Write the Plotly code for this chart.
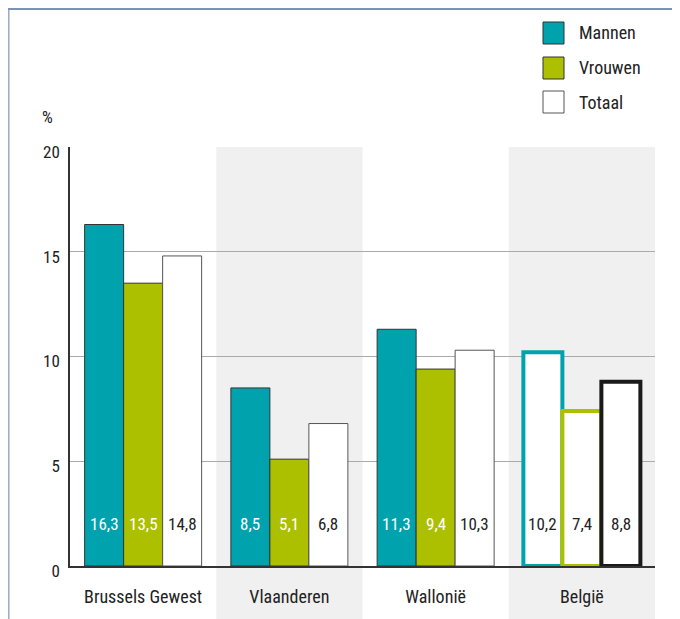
import plotly.graph_objects as go

categories = ["Brussels Gewest", "Vlaanderen", "Wallonië", "België"]
mannen = [16.3, 8.5, 11.3, 10.2]
vrouwen = [13.5, 5.1, 9.4, 7.4]
totaal = [14.8, 6.8, 10.3, 8.8]
labels_m = ["16,3", "8,5", "11,3", "10,2"]
labels_v = ["13,5", "5,1", "9,4", "7,4"]
labels_t = ["14,8", "6,8", "10,3", "8,8"]
series_names = ["Mannen", "Vrouwen", "Totaal"]
y_ticks = [0, 5, 10, 15, 20]

TEAL = "#00a3ad"
GREEN = "#adc000"
FONT = "Roboto Condensed, DejaVu Sans Condensed, sans-serif"
TXT = "#222222"

# the page body adds an 8px offset; work in reference pixels and convert
OFF = 8
W, H = 680 - OFF, 619 - OFF
L, R, T, B = 62, 25, 139, 53
PW, PH = W - L - R, H - T - B


def px(x):
    return (x - OFF - L) / PW


def py(y):
    return (H - B - (y - OFF)) / PH


fig = go.Figure()

m_fill = [TEAL, TEAL, TEAL, "white"]
m_line = ["#333333", "#333333", "#333333", TEAL]
lw = [1, 1, 1, 4]
v_fill = [GREEN, GREEN, GREEN, "white"]
v_line = ["#333333", "#333333", "#333333", GREEN]
t_fill = ["white", "white", "white", "white"]
t_line = ["#555555", "#555555", "#555555", "#1a1a1a"]

fig.add_bar(x=categories, y=mannen, name=series_names[0], marker=dict(color=m_fill, line=dict(color=m_line, width=lw)))
fig.add_bar(x=categories, y=vrouwen, name=series_names[1], marker=dict(color=v_fill, line=dict(color=v_line, width=lw)))
fig.add_bar(x=categories, y=totaal, name=series_names[2], marker=dict(color=t_fill, line=dict(color=t_line, width=lw)))

shapes = []
for i in (1, 3):
    shapes.append(dict(type="rect", xref="x", yref="paper", x0=i - 0.5, x1=i + 0.5,
                       y0=py(640), y1=1, fillcolor="#f0f0f0", line_width=0, layer="below"))
shapes.append(dict(type="rect", xref="paper", yref="paper", x0=px(0), x1=px(690), y0=py(10), y1=py(-10),
                   fillcolor="#7b93b5", line_width=0))
shapes.append(dict(type="line", xref="paper", yref="paper", x0=px(8.8), x1=px(8.8), y0=py(10), y1=py(640),
                   line=dict(color="#9aaac4", width=1.5)))

annotations = []
bw = PW / 4 * 0.8 / 3
for k, (labs, cols) in enumerate([(labels_m, ["white", "white", "white", TXT]),
                                  (labels_v, ["white", "white", "white", TXT]),
                                  (labels_t, [TXT] * 4)]):
    for i, lab in enumerate(labs):
        annotations.append(dict(x=categories[i], y=2, xref="x", yref="y", text=lab, showarrow=False,
                                xshift=(k - 1) * bw, font=dict(size=17, color=cols[i], family=FONT)))

leg = [(series_names[0], TEAL, "#333333", 22), (series_names[1], GREEN, "#333333", 57),
       (series_names[2], "white", "#555555", 91)]
for name, fc, lc, top in leg:
    shapes.append(dict(type="rect", xref="paper", yref="paper", x0=px(543), x1=px(564),
                       y0=py(top + 22), y1=py(top), fillcolor=fc, line=dict(color=lc, width=1)))
    annotations.append(dict(x=px(577), y=py(top + 11), xref="paper", yref="paper", text=name,
                            showarrow=False, xanchor="left", yanchor="middle",
                            font=dict(size=18, color=TXT, family=FONT)))

annotations.append(dict(x=px(47), y=py(117), xref="paper", yref="paper", text="%", showarrow=False,
                        xanchor="center", yanchor="middle", font=dict(size=17, color=TXT, family=FONT)))

fig.update_layout(
    width=W, height=H, margin=dict(l=L, r=R, t=T, b=B),
    paper_bgcolor="white", plot_bgcolor="rgba(0,0,0,0)",
    barmode="group", bargap=0.2, bargroupgap=0,
    shapes=shapes, annotations=annotations,
    font=dict(family=FONT, size=18, color=TXT),
    showlegend=False,
)
fig.update_xaxes(showline=True, linecolor="#333333", linewidth=1.5, ticks="", showgrid=False,
                 tickfont=dict(size=18, color=TXT, family=FONT), ticklabelstandoff=14, range=[-0.5, 3.5])
fig.update_yaxes(range=[0, 20], tickvals=y_ticks, showline=True, linecolor="#333333", linewidth=1.5,
                 showgrid=True, gridcolor="#aaaaaa", gridwidth=1, zeroline=False, ticks="",
                 tickfont=dict(size=17, color=TXT, family=FONT), ticklabelshift=5, ticklabelstandoff=5)

fig.write_html("out.html")
